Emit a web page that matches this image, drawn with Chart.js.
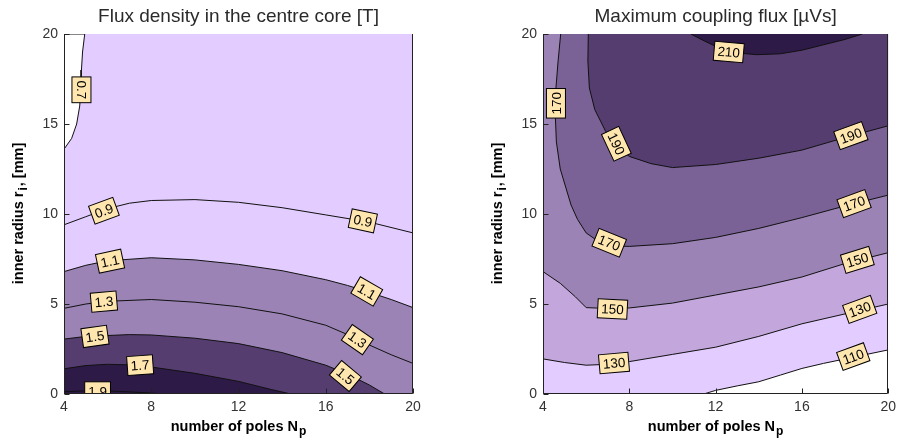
<!DOCTYPE html>
<html>
<head>
<meta charset="utf-8">
<script src="https://cdn.jsdelivr.net/npm/chart.js@4.4.1/dist/chart.umd.min.js"></script>
<style>
  body { margin: 0; background: #fff; }
  #wrap { position: relative; width: 901px; height: 443px; }
  canvas { position: absolute; top: 0; }
</style>
</head>
<body>
<div id="wrap">
  <canvas id="left" width="450" height="443" style="left:0"></canvas>
  <canvas id="right" width="451" height="443" style="left:450px"></canvas>
</div>
<script>
const xTicks = [4, 8, 12, 16, 20];
const yTicks = [0, 5, 10, 15, 20];

// flux density in the centre core [T]: contour lines as [poles, inner radius]
const b07 = [[4, 20], [4.95, 20], [4.85, 19], [4.8, 18], [4.78, 17], [4.72, 16], [4.58, 15], [4.35, 14.2], [4, 13.6]];
const b09 = [[4, 9.4], [5, 9.85], [6, 10.3], [7, 10.6], [8, 10.75], [10, 10.8], [12, 10.65], [14, 10.35], [16, 9.95], [18, 9.55], [20, 8.95]];
const b11 = [[4, 6.8], [5, 7.15], [6, 7.4], [8, 7.57], [10, 7.45], [12, 7.2], [14, 6.85], [16, 6.35], [17, 6.03], [18, 5.65], [19, 5.25], [20, 4.8]];
const b13 = [[4, 4.76], [5, 5.0], [6, 5.15], [8, 5.25], [10, 5.1], [12, 4.85], [14, 4.45], [16, 3.82], [17, 3.3], [18, 2.72], [19, 2.18], [20, 1.7]];
const b15 = [[4, 3.05], [5, 3.2], [7, 3.3], [8, 3.28], [10, 3.1], [12, 2.8], [14, 2.3], [16, 1.6], [17, 1.1], [18, 0.5], [18.7, 0]];
const b17 = [[4, 1.4], [5, 1.58], [6, 1.65], [7, 1.62], [8, 1.5], [10, 1.15], [12, 0.7], [13.5, 0.25], [14.4, 0]];
const b19 = [[4, 0.12], [5, 0.18], [6, 0.17], [7, 0.12], [8, 0.05], [8.6, 0]];
// [text, poles, radius, angle]
const bLabels = [
  ['0.7', 4.8, 16.9, 90], ['0.9', 5.83, 10.18, -20], ['0.9', 17.7, 9.62, 12],
  ['1.1', 6.11, 7.38, -12], ['1.1', 17.88, 5.7, 30], ['1.3', 5.83, 5.13, -5],
  ['1.3', 17.45, 3.02, 35], ['1.5', 5.42, 3.2, -8], ['1.5', 16.9, 1.0, 40],
  ['1.7', 7.49, 1.6, -4], ['1.9', 5.54, 0.15, 0]
];

// maximum coupling flux [uVs]
const f110 = [[11.45, 0], [12, 0.2], [13, 0.45], [14, 0.68], [15, 1.05], [16, 1.42], [17, 1.7], [18, 1.95], [19, 2.2], [20, 2.45]];
const f130 = [[4, 1.95], [5, 1.75], [6, 1.6], [7, 1.65], [8, 1.8], [10, 2.2], [12, 2.6], [14, 3.2], [16, 3.9], [18, 4.45], [20, 5.0]];
const f150 = [[4, 6.8], [4.8, 6.15], [5.5, 5.4], [6, 4.8], [7, 4.75], [8, 4.78], [10, 5.05], [12, 5.5], [14, 5.95], [16, 6.5], [18, 7.25], [20, 7.85]];
const f170 = [[4.82, 20], [4.7, 18.5], [4.6, 17], [4.57, 15.5], [4.62, 14], [4.8, 12.5], [5.05, 11.5], [5.3, 10.5], [5.6, 9.7], [6.0, 8.95], [6.6, 8.45], [7.5, 8.22], [8, 8.2], [10, 8.35], [12, 8.7], [14, 9.2], [16, 9.8], [18, 10.45], [20, 11.05]];
const f190 = [[6.1, 20], [6.08, 18.5], [6.15, 17], [6.4, 15.8], [6.9, 14.6], [7.5, 13.7], [8, 13.2], [9, 12.8], [10, 12.58], [12, 12.75], [14, 13.1], [16, 13.55], [18, 14.25], [20, 14.9]];
const f210 = [[10.85, 20], [11.5, 19.6], [12.2, 19.2], [13, 18.95], [13.9, 18.85], [15, 18.9], [16, 19.1], [17, 19.4], [18, 19.7], [18.8, 20]];
const fLabels = [
  ['110', 18.38, 2.08, -20], ['130', 7.29, 1.72, -5], ['130', 18.68, 4.7, -20],
  ['150', 7.22, 4.72, 3], ['150', 18.57, 7.45, -17], ['170', 4.6, 16.15, -90],
  ['170', 7.07, 8.4, 22], ['170', 18.42, 10.58, -20], ['190', 7.4, 13.9, 65],
  ['190', 18.27, 14.35, -20], ['210', 12.61, 19.0, 5]
];

const FONT = "'Liberation Sans', Arial, sans-serif";
const pt = ([x, y]) => ({ x, y });

function areaSet(points, color, order) {
  return {
    data: points.map(pt), showLine: true, fill: 'shape', order,
    backgroundColor: color, borderColor: 'rgba(0,0,0,0)', borderWidth: 0, pointRadius: 0, tension: 0
  };
}

function lineSet(points) {
  return {
    data: points.map(pt), showLine: true, fill: false, order: 0,
    borderColor: '#111', borderWidth: 1, pointRadius: 0, tension: 0
  };
}

// draw a string with one subscript part, centred on cx
function subText(ctx, main, sub, tail, cx, y) {
  const big = 'bold 14.5px ' + FONT, small = 'bold 12px ' + FONT;
  ctx.font = big;
  const w1 = ctx.measureText(main).width, w3 = ctx.measureText(tail).width;
  ctx.font = small;
  const w2 = ctx.measureText(sub).width + 1;
  let x = cx - (w1 + w2 + w3) / 2;
  ctx.textAlign = 'left';
  ctx.textBaseline = 'alphabetic';
  ctx.font = big; ctx.fillText(main, x, y); x += w1 + 1;
  ctx.font = small; ctx.fillText(sub, x, y + 4); x += w2;
  ctx.font = big; ctx.fillText(tail, x, y);
}

const decor = {
  id: 'decor',
  afterDatasetsDraw(chart, args, opts) {
    const { ctx, chartArea: a, scales: { x, y } } = chart;
    ctx.save();
    ctx.beginPath();
    ctx.rect(a.left, a.top, a.right - a.left, a.bottom - a.top);
    ctx.clip();
    ctx.font = '13.5px ' + FONT;
    ctx.textAlign = 'center';
    ctx.textBaseline = 'middle';
    for (const [txt, vx, vy, ang] of opts.labels) {
      const w = ctx.measureText(txt).width + 7, h = 19;
      ctx.save();
      ctx.translate(x.getPixelForValue(vx), y.getPixelForValue(vy));
      ctx.rotate(ang * Math.PI / 180);
      ctx.fillStyle = '#FFE6AE';
      ctx.fillRect(-w / 2, -h / 2, w, h);
      ctx.strokeStyle = '#000';
      ctx.lineWidth = 1;
      ctx.strokeRect(-w / 2, -h / 2, w, h);
      ctx.fillStyle = '#000';
      ctx.fillText(txt, 0, 1);
      ctx.restore();
    }
    ctx.restore();

    // axes frame and inward ticks
    ctx.save();
    ctx.strokeStyle = '#222';
    ctx.lineWidth = 1;
    const L = Math.round(a.left) + 0.5, R = Math.round(a.right) - 0.5, B = Math.round(a.bottom) - 0.5;
    ctx.beginPath();
    ctx.moveTo(L, a.top); ctx.lineTo(L, B); ctx.lineTo(R, B); ctx.lineTo(R, a.top);
    xTicks.forEach(v => { const px = Math.round(x.getPixelForValue(v)) + 0.5; ctx.moveTo(px, B); ctx.lineTo(px, B - 5); });
    yTicks.forEach(v => { const py = Math.round(y.getPixelForValue(v)) + 0.5; ctx.moveTo(L, py); ctx.lineTo(L + 5, py); });
    ctx.stroke();

    // axis titles
    ctx.fillStyle = '#000';
    subText(ctx, 'number of poles N', 'p', '', (a.left + a.right) / 2, 431);
    ctx.translate(a.left - 41, (a.top + a.bottom) / 2);
    ctx.rotate(-Math.PI / 2);
    subText(ctx, 'inner radius r', 'i', ', [mm]', 0, 0);
    ctx.restore();
  }
};

function makeChart(id, title, datasets, labels, yWidth, padRight) {
  return new Chart(document.getElementById(id), {
    type: 'scatter',
    data: { datasets },
    plugins: [decor],
    options: {
      responsive: false,
      animation: false,
      events: [],
      devicePixelRatio: 1,
      layout: { padding: { left: 0, right: padRight, top: 0, bottom: 0 } },
      plugins: {
        legend: { display: false },
        tooltip: { enabled: false },
        colors: { enabled: false },
        title: {
          display: true, text: title, fullSize: false, color: '#2a2a2a',
          font: { family: FONT, size: 19, weight: 'normal', lineHeight: 1.2 },
          padding: { top: 5, bottom: 6.2 }
        },
        decor: { labels }
      },
      scales: {
        x: {
          type: 'linear', min: 4, max: 20,
          afterBuildTicks: s => { s.ticks = xTicks.map(v => ({ value: v })); },
          afterFit: s => { s.height = 49; },
          grid: { display: false, drawTicks: false },
          border: { display: false },
          ticks: { color: '#333', font: { family: FONT, size: 14 }, padding: 5, maxRotation: 0, autoSkip: false }
        },
        y: {
          type: 'linear', min: 0, max: 20,
          afterBuildTicks: s => { s.ticks = yTicks.map(v => ({ value: v })); },
          afterFit: s => { s.width = yWidth; },
          grid: { display: false, drawTicks: false },
          border: { display: false },
          ticks: { color: '#333', font: { family: FONT, size: 14 }, padding: 6, autoSkip: false }
        }
      }
    }
  });
}

const C1 = '#E3CCFF', C2 = '#C3A6DB', C3 = '#9B84B5', C4 = '#7A6296', C5 = '#563D70', C6 = '#2E1A47';

const fluxSets = [
  areaSet([[4, 0], [20, 0], [20, 20], [4, 20]], C1, 100),
  areaSet(b07, '#FFFFFF', 99),
  areaSet(b11.concat([[20, 0], [4, 0]]), C3, 98),
  areaSet(b15.concat([[4, 0]]), C5, 97),
  areaSet(b17.concat([[4, 0]]), C6, 96),
  ...[b07, b09, b11, b13, b15, b17, b19].map(lineSet)
];

const couplingSets = [
  areaSet(f110.concat([[20, 20], [4, 20], [4, 0]]), C1, 100),
  areaSet(f130.concat([[20, 20], [4, 20]]), C2, 99),
  areaSet(f150.concat([[20, 20], [4, 20]]), C3, 98),
  areaSet(f170.concat([[20, 20]]), C4, 97),
  areaSet(f190.concat([[20, 20]]), C5, 96),
  areaSet(f210, C6, 95),
  ...[f110, f130, f150, f170, f190, f210].map(lineSet)
];

makeChart('left', 'Flux density in the centre core [T]', fluxSets, bLabels, 64, 37);
makeChart('right', 'Maximum coupling flux [\u00B5Vs]', couplingSets, fLabels, 93, 7);
</script>
</body>
</html>
